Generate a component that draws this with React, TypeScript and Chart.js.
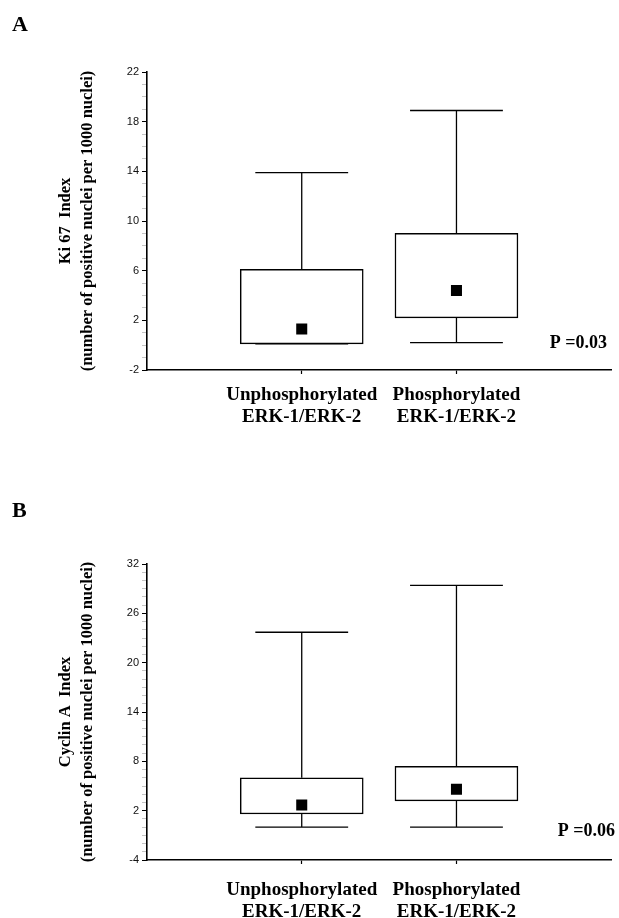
import React, { useEffect, useRef } from "react";
import { Chart, registerables } from "chart.js";

Chart.register(...registerables);

// ---------- data ----------
const categories: string[][] = [
  ["Unphosphorylated", "ERK-1/ERK-2"],
  ["Phosphorylated", "ERK-1/ERK-2"],
];
const categoryPositions = [1, 2];

// Panel A: Ki 67 index
const ki67Min = [0.1, 0.2];
const ki67Q1 = [0.1, 2.2];
const ki67Q3 = [6.1, 9.0];
const ki67Max = [13.9, 18.9];
const ki67Mean = [1.3, 4.4];
const ki67Axis = { min: -2, max: 22, major: 4 };
const ki67Title = ["Ki 67  Index", "(number of positive nuclei per 1000 nuclei)"];
const ki67P = "P =0.03";

// Panel B: Cyclin A index
const cyclinMin = [0.0, 0.0];
const cyclinQ1 = [1.6, 3.2];
const cyclinQ3 = [6.0, 7.4];
const cyclinMax = [23.7, 29.4];
const cyclinMean = [2.7, 4.6];
const cyclinAxis = { min: -4, max: 32, major: 6 };
const cyclinTitle = ["Cyclin A  Index", "(number of positive nuclei per 1000 nuclei)"];
const cyclinP = "P =0.06";

// ---------- styling ----------
const SERIF = "'Liberation Serif', 'Times New Roman', serif";
const SANS = "'Liberation Sans', Arial, sans-serif";
const CAP_HALF = 0.3;
const W = 619;
const H = 459;

type Panel = {
  min: number[]; q1: number[]; q3: number[]; max: number[]; mean: number[];
  axis: { min: number; max: number; major: number };
  title: string[];
  pText: string;
  letter: string;
  letterY: number;
  pX: number;
  pY: number;
  padTop: number;
  padRight: number;
  xHeight: number;
  xTickPad: number;
};

const textPlugin = {
  id: "panelText",
  afterDraw(chart: any, _args: any, opts: any) {
    const ctx = chart.ctx;
    ctx.save();
    ctx.fillStyle = "#000";
    ctx.textBaseline = "alphabetic";
    ctx.font = `bold 22px ${SERIF}`;
    ctx.textAlign = "left";
    ctx.fillText(opts.letter, 12, opts.letterY);
    ctx.font = `bold 18px ${SERIF}`;
    ctx.textAlign = "right";
    ctx.fillText(opts.pText, opts.pX, opts.pY);
    ctx.restore();
  },
};

function buildConfig(p: Panel): any {
  const whiskers: any[] = [];
  const caps: any[] = [];
  categoryPositions.forEach((x, i) => {
    whiskers.push({ x, y: p.q3[i] }, { x, y: p.max[i] }, { x, y: null });
    whiskers.push({ x, y: p.q1[i] }, { x, y: p.min[i] }, { x, y: null });
    caps.push({ x: x - CAP_HALF, y: p.max[i] }, { x: x + CAP_HALF, y: p.max[i] }, { x, y: null });
    caps.push({ x: x - CAP_HALF, y: p.min[i] }, { x: x + CAP_HALF, y: p.min[i] }, { x, y: null });
  });
  const { min, max, major } = p.axis;
  const isMajor = (v: number) => Math.abs(((v - min) % major + major) % major) < 1e-9;
  return {
    type: "bar",
    data: {
      datasets: [
        {
          type: "line",
          data: whiskers,
          borderColor: "#000",
          borderWidth: 1.3,
          pointRadius: 0,
          spanGaps: false,
          fill: false,
          order: 3,
        },
        {
          type: "line",
          data: caps,
          borderColor: "#000",
          borderWidth: 1.3,
          pointRadius: 0,
          spanGaps: false,
          fill: false,
          order: 3,
        },
        {
          type: "bar",
          data: categoryPositions.map((x, i) => ({ x, y: [p.q1[i], p.q3[i]] })),
          backgroundColor: "#fff",
          borderColor: "#000",
          borderWidth: 1.5,
          borderSkipped: false,
          barThickness: 123,
          order: 2,
        },
        {
          type: "line",
          data: categoryPositions.map((x, i) => ({ x, y: p.mean[i] })),
          showLine: false,
          pointStyle: "rect",
          pointRadius: 7.8,
          pointBorderWidth: 0,
          pointBackgroundColor: "#000",
          borderColor: "#000",
          order: 1,
        },
      ],
    },
    options: {
      responsive: false,
      animation: false,
      devicePixelRatio: 1,
      layout: { padding: { top: p.padTop, right: p.padRight, left: 0, bottom: 0 } },
      plugins: {
        legend: { display: false },
        tooltip: { enabled: false },
        panelText: { letter: p.letter, letterY: p.letterY, pText: p.pText, pX: p.pX, pY: p.pY },
      },
      scales: {
        x: {
          type: "linear",
          min: 0,
          max: 3,
          offset: false,
          afterBuildTicks: (scale: any) => {
            scale.ticks = categoryPositions.map((v) => ({ value: v }));
          },
          afterFit: (scale: any) => {
            scale.height = p.xHeight;
          },
          grid: { display: true, drawOnChartArea: false, offset: false, tickLength: 4, tickColor: "#000", tickWidth: 1.2 },
          border: { display: true, color: "#000", width: 1.6 },
          ticks: {
            autoSkip: false,
            maxRotation: 0,
            padding: p.xTickPad,
            color: "#000",
            font: { family: SERIF, size: 19, weight: "bold", lineHeight: 1.16 },
            callback: (v: number) => categories[categoryPositions.indexOf(v)] ?? "",
          },
        },
        y: {
          type: "linear",
          min,
          max,
          afterFit: (scale: any) => {
            scale.width = 147;
          },
          grid: {
            display: true,
            drawOnChartArea: false,
            tickLength: 5,
            tickWidth: 1,
            tickColor: (c: any) => (c.tick && isMajor(c.tick.value) ? "#000" : "#c4c4c4"),
          },
          border: { display: true, color: "#000", width: 1.6 },
          ticks: {
            stepSize: 1,
            autoSkip: false,
            padding: 3,
            color: "#111",
            font: { family: SANS, size: 11 },
            callback: (v: number) => (isMajor(v) ? String(v) : ""),
          },
          title: {
            display: true,
            text: p.title,
            color: "#000",
            font: { family: SERIF, size: 16.5, weight: "bold", lineHeight: 1.33 },
            padding: { top: 55, bottom: 0 },
          },
        },
      },
    },
    plugins: [textPlugin],
  };
}

const panelA: Panel = {
  min: ki67Min, q1: ki67Q1, q3: ki67Q3, max: ki67Max, mean: ki67Mean,
  axis: ki67Axis, title: ki67Title, pText: ki67P,
  letter: "A", letterY: 31, pX: 607, pY: 348,
  padTop: 72, padRight: 7, xHeight: H - 370, xTickPad: 10,
};

const panelB: Panel = {
  min: cyclinMin, q1: cyclinQ1, q3: cyclinQ3, max: cyclinMax, mean: cyclinMean,
  axis: cyclinAxis, title: cyclinTitle, pText: cyclinP,
  letter: "B", letterY: 58, pX: 615, pY: 377,
  padTop: 105, padRight: 6, xHeight: H - 401, xTickPad: 15,
};

function PanelChart({ panel, top }: { panel: Panel; top: number }) {
  const ref = useRef<HTMLCanvasElement | null>(null);
  useEffect(() => {
    if (!ref.current) return;
    const chart = new Chart(ref.current, buildConfig(panel));
    return () => chart.destroy();
  }, [panel]);
  return (
    <canvas
      ref={ref}
      width={W}
      height={H}
      style={{ position: "absolute", left: 0, top, width: W, height: H, display: "block" }}
    />
  );
}

export default function App() {
  return (
    <div style={{ position: "absolute", left: 0, top: 0, width: W, height: 918, background: "#fff" }}>
      <PanelChart panel={panelA} top={0} />
      <PanelChart panel={panelB} top={H} />
    </div>
  );
}
